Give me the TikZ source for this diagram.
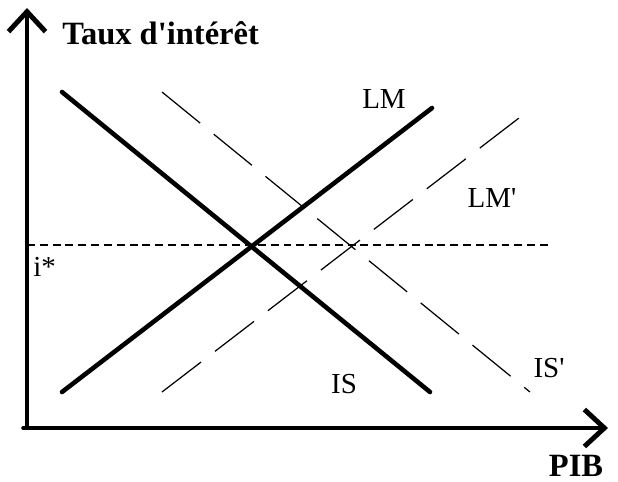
\documentclass[tikz,border=0pt]{standalone}
\usepackage{fontspec}
\setmainfont{Liberation Serif}
\usetikzlibrary{arrows.meta,positioning}
\tikzset{
    islm diagram/.style = {x=0.02cm, y=-0.02cm,
                           >={Straight Barb[length=4mm, width=7.4mm, line width=2.8pt]}},
    axis/.style         = {line width=2pt, line cap=round},
    curve/.style        = {line width=2.6pt, line cap=round},
    shifted/.style      = {line width=0.7pt, dash pattern=on 28pt off 10pt},
    level/.style        = {line width=0.8pt, dash pattern=on 4.5pt off 2.8pt},
    axlabel/.style      = {font=\fontsize{18.5}{21}\selectfont\bfseries, inner sep=0pt},
    crvlabel/.style     = {font=\fontsize{16.5}{19}\selectfont, inner sep=0pt}
}

\begin{document}
\begin{tikzpicture}[islm diagram]
\useasboundingbox (0,0) rectangle (618,481);

% ================= Axes =================
\coordinate (origin) at (27,428);
\coordinate (ytop)   at (27,8);
\coordinate (xend)   at (608,428);
\draw[axis, ->] (origin) -- (ytop);
\draw[axis, ->] (23,428) -- (xend);
\node[axlabel, anchor=west] (ylab) at (62,33) {Taux d\textquotesingle intérêt};
\node[axlabel] (xlab) at (576,466) {PIB};

% ================= Initial equilibrium =================
\coordinate (is top) at (62,92);
\coordinate (is bot) at (430,392);
\coordinate (lm bot) at (62,392);
\coordinate (lm top) at (432,108);
\draw[curve] (is top) -- (is bot);
\draw[curve] (lm bot) -- (lm top);
\node[crvlabel] (lm) at (384,99)  {LM};
\node[crvlabel] (is) at (344,384) {IS};

% ================= Shifted curves =================
\coordinate (is2 top) at (162,92);
\coordinate (is2 bot) at (530,392);
\coordinate (lm2 bot) at (162,392);
\coordinate (lm2 top) at (532,108);
\draw[shifted] (is2 top) -- (is2 bot);
\draw[shifted] (lm2 bot) -- (lm2 top);
\node[crvlabel] (lm2) at (492,198) {LM\textquotesingle};
\node[crvlabel] (is2) at (549,368) {IS\textquotesingle};

% ================= Interest rate level =================
\coordinate (rate end) at (548,245);
\draw[level] (27,245) -- (rate end);
\node[crvlabel, anchor=west] (istar) at (33,267) {i*};

\end{tikzpicture}
\end{document}
